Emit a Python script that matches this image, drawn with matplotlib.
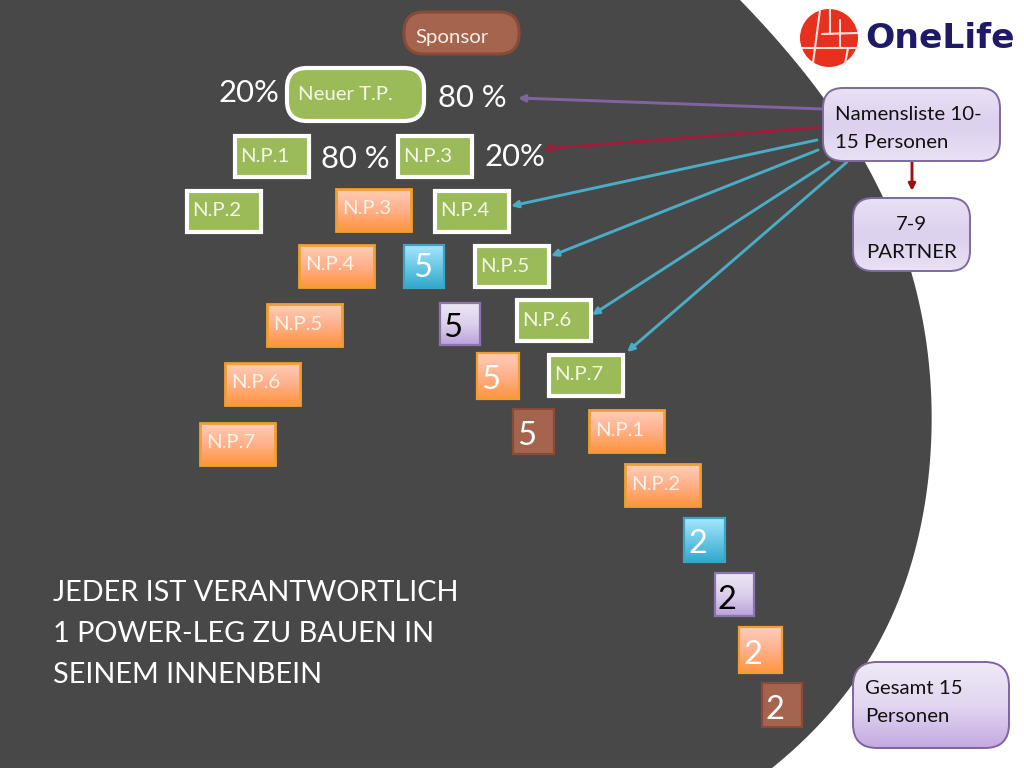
import numpy as np
import matplotlib
matplotlib.use("Agg")
import matplotlib.pyplot as plt
from matplotlib.patches import FancyBboxPatch, Circle, Polygon
from matplotlib.colors import LinearSegmentedColormap

plt.rcParams['font.family'] = ['Lato', 'DejaVu Sans']

# ---- text content ----
green_labels = ["N.P.1", "N.P.3", "N.P.2", "N.P.4", "N.P.5", "N.P.6", "N.P.7"]
orange_labels = ["N.P.3", "N.P.4", "N.P.5", "N.P.6", "N.P.7", "N.P.1", "N.P.2"]
count_labels = ["5", "5", "5", "5", "2", "2", "2", "2"]
count_styles = ["blue", "purple", "orange", "brown", "blue", "purple", "orange", "brown"]
pct_labels = ["20%", "80 %", "80 %", "20%"]
headline = ["JEDER IST VERANTWORTLICH", "1 POWER-LEG ZU BAUEN IN", "SEINEM INNENBEIN"]

# ---- layout (pixels) ----
green_x0 = [233, 396, 185, 433, 473, 515, 547]
green_y0 = [134, 134, 189, 189, 244, 298, 353]
orange_x0 = [335, 298, 266, 224, 199, 588, 624]
orange_y0 = [188, 244, 303, 362, 422, 409, 463]
count_x0 = [403, 439, 476, 512, 683, 714, 738, 761]
count_y0 = [244, 302, 352, 408, 517, 572, 626, 682]
count_x1 = [445, 481, 520, 555, 726, 755, 783, 803]
count_y1 = [289, 346, 400, 455, 563, 617, 674, 728]
count_tx = [423, 453, 491, 527, 698, 727, 753, 775]
count_ty = [268, 328, 380, 436, 544, 600, 655, 710]
pct_x = [219, 438, 321, 484]
pct_y = [93, 98, 159, 157]
edge_y = [0, 93, 197, 280, 400, 500, 653, 768]
edge_x = [740, 820, 883, 913, 932, 925, 873, 772]

GRADS = {
    "blue": (["#A6E6FF", "#6CC8E6", "#31A9CE"], "#3FA3C2"),
    "purple": (["#EDE6F6", "#DCD0EC", "#BBA3DC"], "#8C74AE"),
    "orange": (["#FFCDB8", "#FFB08A", "#FF953F"], "#F0A030"),
    "brown": (["#A5644E", "#A5644E"], "#8A4A38"),
}

fig = plt.figure(figsize=(10.24, 7.68), dpi=100, facecolor="white")
ax = fig.add_axes([0, 0, 1, 1])
ax.set_xlim(0, 1024)
ax.set_ylim(768, 0)
ax.axis("off")

# dark background shape
ys = np.linspace(0, 768, 200)
coef = np.polyfit(edge_y, edge_x, 5)
xs = np.polyval(coef, ys)
ax.add_patch(Polygon(np.r_[[[0, 0]], np.c_[xs, ys], [[0, 768]]], closed=True, fc="#484848", ec="none", zorder=1))


def box(x0, y0, x1, y1, cols, edge, lw=2.0, r=0.0, z=3):
    w, h = x1 - x0, y1 - y0
    style = f"round,pad=0,rounding_size={r}" if r else "square,pad=0"
    clip = FancyBboxPatch((x0, y0), w, h, boxstyle=style, fc="none", ec="none", zorder=z)
    ax.add_patch(clip)
    cm = LinearSegmentedColormap.from_list("g", cols)
    im = ax.imshow(np.linspace(0, 1, 64)[:, None], extent=(x0, x1, y1, y0), cmap=cm,
                   aspect="auto", zorder=z, interpolation="bilinear")
    im.set_clip_path(clip)
    ax.add_patch(FancyBboxPatch((x0, y0), w, h, boxstyle=style, fc="none", ec=edge, lw=lw, zorder=z + 0.1))


def label(x, y, s, size=14.7, color="white", ha="left", z=6):
    ax.text(x, y, s, fontsize=size, color=color, ha=ha, va="center", zorder=z)


# sponsor and root
box(404, 12, 519, 54, ["#A5644E", "#A5644E"], "#8A4A38", lw=2.2, r=20)
label(415, 38, "Sponsor", color="#FBEFE8")
box(287, 68, 424, 121, ["#9BBB59", "#9BBB59"], "white", lw=3, r=20)
label(298, 94, "Neuer T.P.", color="#F4F8E8")

# green boxes
for s, x, y in zip(green_labels, green_x0, green_y0):
    box(x + 2, y + 2, x + 76, y + 43, ["#9BBB59", "#9BBB59"], "white", lw=3)
    label(x + 7, y + 22, s, color="#F4F8E8")

# orange boxes
for s, x, y in zip(orange_labels, orange_x0, orange_y0):
    box(x + 1, y + 1, x + 76, y + 43, GRADS["orange"][0], GRADS["orange"][1], lw=2)
    label(x + 7, y + 21, s, color="#FFF3E6")

# count boxes
for s, st, x0, y0, x1, y1, tx, ty in zip(count_labels, count_styles, count_x0, count_y0,
                                        count_x1, count_y1, count_tx, count_ty):
    cols, e = GRADS[st]
    box(x0 + 1, y0 + 1, x1 - 1, y1 - 1, cols, e, lw=1.6)
    label(tx, ty, s, 23.5, color="black" if st == "purple" else "white", ha="center")

# percentages
for s, x, y in zip(pct_labels, pct_x, pct_y):
    label(x, y, s, 22.3)

# headline
for s, y in zip(headline, [593, 634, 675]):
    label(53, y, s, 20.8)


# arrows
def arrow(x0, y0, x1, y1, color, lw=2.1, ms=10):
    ax.annotate("", xy=(x1, y1), xytext=(x0, y0), zorder=5,
                arrowprops=dict(arrowstyle="-|>", color=color, lw=lw, mutation_scale=ms,
                                shrinkA=0, shrinkB=0))


arrow(824, 109, 518, 98, "#8064A2")
arrow(824, 127, 543, 149, "#A01C3C")
arrow(817, 140, 511, 206, "#4BACC6")
arrow(818, 150, 551, 256, "#4BACC6")
arrow(829, 162, 592, 315, "#4BACC6")
arrow(847, 162, 627, 352, "#4BACC6")
arrow(912, 159, 912, 191, "#9C1010")

# note boxes
note_top = ["#E9E1F4", "#DCD0EE", "#E9E1F4"]
box(823, 88, 1000, 161, note_top, "#7E6A9E", lw=1.4, r=20, z=7)
ax.text(835, 115, "Namensliste 10-", fontsize=14.7, color="#111111", va="center", zorder=9)
ax.text(835, 142, "15 Personen", fontsize=14.7, color="#111111", va="center", zorder=9)
box(853, 198, 970, 271, note_top, "#7E6A9E", lw=1.4, r=20, z=7)
ax.text(911, 225, "7-9", fontsize=14.7, color="#111111", va="center", ha="center", zorder=9)
ax.text(911, 252, "PARTNER", fontsize=14.7, color="#111111", va="center", ha="center", zorder=9)
box(853, 662, 1009, 748, ["#EFE9F7", "#E2D6F0", "#C3ABE2"], "#8064A2", lw=1.4, r=24, z=7)
ax.text(865, 688, "Gesamt 15", fontsize=14.7, color="#111111", va="center", zorder=9)
ax.text(865, 716, "Personen", fontsize=14.7, color="#111111", va="center", zorder=9)

# logo
ax.add_patch(Circle((829, 38), 29, fc="#E8301F", ec="none", zorder=3))
logo_lines = [([801, 858], [48, 48]), ([820, 813], [10, 63]), ([830, 830], [9, 34]),
              ([822, 857], [34, 33]), ([840, 840], [20, 48]), ([848, 845], [48, 64])]
for lx, ly in logo_lines:
    ax.plot(lx, ly, color="#FFE4DC", lw=1.5, solid_capstyle="round", zorder=4)
ax.text(865, 39, "OneLife", fontsize=24.8, color="#1F1A66", fontweight="bold",
        family="DejaVu Sans", va="center", zorder=4)

ax.set_xlim(0, 1024)
ax.set_ylim(768, 0)
fig.savefig("out.png", dpi=100, facecolor="white")
